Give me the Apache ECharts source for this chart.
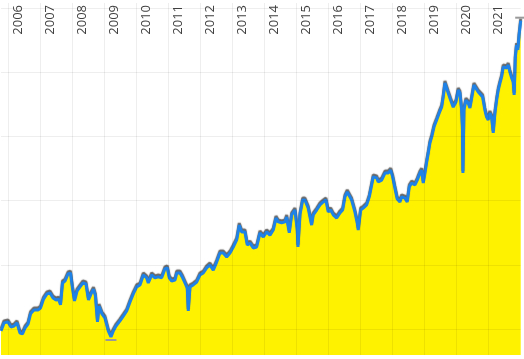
<!DOCTYPE html>
<html>
<head>
<meta charset="utf-8">
<script src="https://cdn.jsdelivr.net/npm/echarts@6/dist/echarts.min.js"></script>
<style>html,body{margin:0;padding:0;background:#fff}#c{width:524px;height:359px}</style>
</head>
<body>
<div id="c"></div>
<script>
// decimal years (x) and values (y)
const years2006 = [2005.772,2005.866,2005.991,2006.084,2006.178,2006.272,2006.365,2006.443,2006.521,2006.615,2006.693,2006.802,2006.927,2007.005,2007.099,2007.208,2007.302,2007.396,2007.489,2007.567,2007.630,2007.692,2007.770,2007.864,2007.942,2008.004,2008.067,2008.145,2008.239,2008.332,2008.426,2008.504,2008.582,2008.660,2008.722,2008.785,2008.832,2008.925,2009.019,2009.122,2009.206,2009.278,2009.363,2009.487,2009.590,2009.697,2009.800,2009.903,2010.009,2010.112];
const values2006 = [19.5,22.0,22.3,20.7,21.0,22.0,18.8,18.6,20.4,21.6,24.8,26.0,26.0,26.6,29.4,31.0,31.3,29.7,29.1,29.4,27.6,34.4,35.0,37.2,37.5,32.8,28.8,31.9,33.2,34.4,34.1,29.1,31.0,32.5,30.4,22.3,27.2,24.8,23.5,19.5,17.6,19.5,21.0,22.6,24.1,25.7,28.5,31.0,33.2,33.8];
const years2010 = [2010.215,2010.321,2010.371,2010.477,2010.580,2010.683,2010.789,2010.892,2010.964,2011.027,2011.102,2011.205,2011.258,2011.361,2011.445,2011.517,2011.589,2011.620,2011.673,2011.776,2011.882,2011.985,2012.088,2012.194,2012.297,2012.400,2012.506,2012.609,2012.712,2012.819,2012.922,2013.025,2013.131,2013.212,2013.287,2013.390,2013.462,2013.546,2013.649,2013.755,2013.858,2013.961,2014.068,2014.171];
const values2010 = [36.9,36.0,34.4,36.9,36.0,36.3,36.0,38.8,39.1,36.0,35.0,35.3,37.5,37.5,36.0,34.4,32.8,25.7,33.2,33.8,34.7,36.9,37.5,39.1,40.0,38.4,40.9,43.7,43.7,42.5,43.7,45.6,47.8,52.4,50.3,50.3,46.2,46.8,45.3,45.6,50.0,48.7,50.3,49.3];
const years2014 = [2014.274,2014.358,2014.430,2014.536,2014.639,2014.692,2014.773,2014.848,2014.951,2015.023,2015.045,2015.107,2015.192,2015.263,2015.366,2015.472,2015.522,2015.629,2015.732,2015.835,2015.919,2015.991,2016.066,2016.147,2016.253,2016.356,2016.440,2016.512,2016.584,2016.646,2016.721,2016.824,2016.896,2016.927,2017.002,2017.083,2017.190,2017.271,2017.346,2017.396,2017.502,2017.552,2017.658,2017.761,2017.864,2017.939,2018.001,2018.073,2018.145,2018.229];
const values2014 = [50.9,54.6,53.4,53.1,53.4,54.9,50.0,55.6,57.1,50.9,45.6,55.6,60.2,60.2,57.7,52.4,55.6,57.1,58.7,59.6,60.2,56.5,57.1,55.6,54.6,56.2,57.1,61.2,62.7,62.4,60.2,56.5,53.1,50.9,57.1,57.7,58.7,61.2,64.9,67.4,67.1,65.8,66.4,68.6,68.6,69.5,67.4,63.9,60.5,59.6];
const years2018 = [2018.282,2018.385,2018.457,2018.520,2018.595,2018.698,2018.769,2018.854,2018.907,2018.957,2019.010,2019.063,2019.113,2019.166,2019.219,2019.291,2019.375,2019.456,2019.531,2019.581,2019.634,2019.687,2019.737,2019.812,2019.893,2019.978,2020.049,2020.103,2020.156,2020.181,2020.196,2020.227,2020.290,2020.362,2020.415,2020.468,2020.540,2020.602,2020.674,2020.727,2020.811,2020.883,2020.936,2020.986,2021.039,2021.092,2021.142,2021.195,2021.248,2021.298,2021.351,2021.404,2021.454,2021.507,2021.561,2021.611,2021.664,2021.717,2021.767,2021.795,2021.830,2021.870,2021.910,2021.950,2021.975,2022.000];
const values2018 = [61.2,60.8,59.6,64.3,65.5,64.9,66.4,68.6,69.5,65.5,68.6,72.0,74.8,78.0,79.8,82.9,85.1,87.3,89.1,92.3,96.6,97.0,93.5,91.3,89.1,90.7,94.4,93.5,88.2,82.9,68.6,88.2,91.3,90.4,88.8,91.9,96.0,95.4,93.8,93.5,92.3,88.2,86.0,85.1,87.3,86.0,81.1,87.3,91.3,94.4,96.6,98.5,101.6,102.2,101.3,102.2,100.0,98.2,96.9,92.9,104.4,108.4,106.9,111.5,113.7,116.0];

const years = [].concat(years2006, years2010, years2014, years2018);
const values = [].concat(values2006, values2010, values2014, values2018);
const data = years.map((y, i) => [y, values[i]]);

const chart = echarts.init(document.getElementById('c'), null, {renderer: 'canvas'});
const gridLine = {show: true, showMinLine: false, showMaxLine: false, lineStyle: {color: 'rgba(0,0,0,0.066)', width: 1}};
chart.setOption({
  animation: false,
  backgroundColor: '#ffffff',
  grid: {left: 1, right: 3.3, top: 3, bottom: 4, containLabel: false, outerBoundsMode: 'none'},
  xAxis: {
    type: 'value', position: 'top', min: 2005.772, max: 2022, splitNumber: 16, z: 5,
    axisLine: {show: false}, axisTick: {show: false},
    axisLabel: {
      inside: true, rotate: -90, margin: 2, showMinLabel: false, showMaxLabel: false,
      align: 'right', verticalAlign: 'top', lineHeight: 20,
      color: '#404040', fontSize: 13, fontFamily: 'Open Sans',
      formatter: v => String(Math.round(v))
    },
    splitLine: gridLine
  },
  yAxis: {
    type: 'value', min: 12, max: 121.5, splitNumber: 5, z: 5,
    axisLine: {show: false}, axisTick: {show: false}, axisLabel: {show: false},
    splitLine: gridLine
  },
  series: [{
    type: 'line', data: data, showSymbol: false, symbol: 'none', z: 2,
    lineStyle: {color: '#1e82e6', width: 3, join: 'bevel', shadowColor: '#666666', shadowBlur: 1, shadowOffsetY: -2},
    areaStyle: {color: '#fff200', opacity: 1, origin: 'start'},
    markPoint: {
      symbol: 'rect', symbolSize: [11, 2], silent: true,
      itemStyle: {color: '#9a9a9a'},
      label: {show: false},
      data: [{type: 'max', symbolOffset: [0, -3]}, {type: 'min', symbolOffset: [0, 3]}]
    }
  }]
});
</script>
</body>
</html>
